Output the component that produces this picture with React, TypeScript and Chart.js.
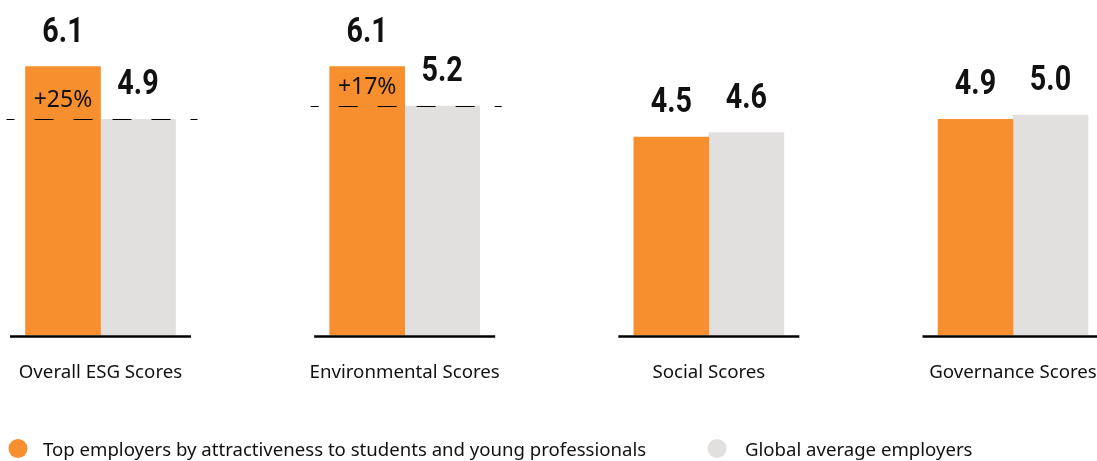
import React, { useEffect, useRef } from "react";
import { Chart, registerables } from "chart.js";

Chart.register(...registerables);

const categories = ["Overall ESG Scores", "Environmental Scores", "Social Scores", "Governance Scores"];
const topEmployers = [6.1, 6.1, 4.5, 4.9];
const globalAverage = [4.9, 5.2, 4.6, 5.0];
const gapLabels: (string | null)[] = ["+25%", "+17%", null, null];
const seriesNames = [
  "Top employers by attractiveness to students and young professionals",
  "Global average employers",
];
const seriesColors = ["#F78F2E", "#E2DFDF"];

const TEXT = "#111111";

const decorPlugin = {
  id: "decor",
  afterDatasetsDraw(chart: any) {
    const ctx = chart.ctx as CanvasRenderingContext2D;
    const xs = chart.scales.x;
    const ys = chart.scales.y;
    const base = ys.getPixelForValue(0);
    ctx.save();
    categories.forEach((cat, i) => {
      const cx = xs.getPixelForValue(i);
      // baseline
      ctx.strokeStyle = "#000";
      ctx.lineWidth = 2.5;
      ctx.setLineDash([]);
      ctx.beginPath();
      ctx.moveTo(cx - 90.5, base + 1.5);
      ctx.lineTo(cx + 90.5, base + 1.5);
      ctx.stroke();
      // category label
      ctx.fillStyle = TEXT;
      ctx.font = "18.7px 'Noto Sans'";
      ctx.textAlign = "center";
      ctx.textBaseline = "alphabetic";
      ctx.fillText(cat, cx, base + 43);
      // dashed reference + gap label
      const gap = gapLabels[i];
      if (gap) {
        const gy = Math.round(ys.getPixelForValue(globalAverage[i])) + 0.5;
        ctx.strokeStyle = "#000";
        ctx.lineWidth = 1;
        ctx.setLineDash([19, 20]);
        ctx.lineDashOffset = 11;
        ctx.beginPath();
        ctx.moveTo(cx - 94, gy);
        ctx.lineTo(cx + 97, gy);
        ctx.stroke();
        ctx.setLineDash([]);
        const ox = chart.getDatasetMeta(0).data[i].x;
        ctx.font = "23px 'Noto Sans'";
        ctx.fillStyle = TEXT;
        ctx.fillText(gap, ox, gy - 13);
      }
    });
    // value labels
    chart.data.datasets.forEach((ds: any, di: number) => {
      const meta = chart.getDatasetMeta(di);
      meta.data.forEach((bar: any, i: number) => {
        const txt = Number(ds.data[i]).toFixed(1);
        ctx.save();
        ctx.translate(bar.x, bar.y - 25);
        ctx.scale(0.82, 1);
        ctx.font = "bold 35px Roboto";
        ctx.fillStyle = TEXT;
        ctx.textAlign = "center";
        ctx.textBaseline = "alphabetic";
        ctx.fillText(txt, 0, 0);
        ctx.restore();
      });
    });
    // legend
    const legendItems = [
      { cx: 18, tx: 43 },
      { cx: 717, tx: 745 },
    ];
    legendItems.forEach((it, k) => {
      ctx.fillStyle = seriesColors[k];
      ctx.beginPath();
      ctx.arc(it.cx, 448.5, 9.5, 0, Math.PI * 2);
      ctx.fill();
      ctx.fillStyle = TEXT;
      ctx.font = "18.6px 'Noto Sans'";
      ctx.textAlign = "left";
      ctx.textBaseline = "alphabetic";
      ctx.fillText(seriesNames[k], it.tx, 456);
    });
    ctx.restore();
  },
};

export default function App() {
  const ref = useRef<HTMLCanvasElement | null>(null);
  useEffect(() => {
    if (!ref.current) return;
    const chart = new Chart(ref.current, {
      type: "bar",
      data: {
        labels: categories,
        datasets: [
          {
            label: seriesNames[0],
            data: topEmployers,
            backgroundColor: seriesColors[0],
            borderWidth: 0,
            barThickness: 75,
            clip: false as any,
          },
          {
            label: seriesNames[1],
            data: globalAverage,
            backgroundColor: seriesColors[1],
            borderWidth: 0,
            barThickness: 75,
            clip: false as any,
          },
        ],
      },
      options: {
        responsive: false,
        animation: false,
        devicePixelRatio: 1,
        layout: { padding: { left: 100.5, right: 84, top: 27, bottom: 126 } },
        scales: {
          x: { type: "category", offset: false, display: false, grid: { display: false } },
          y: { type: "linear", min: 0, max: 7, display: false, grid: { display: false } },
        },
        plugins: {
          legend: { display: false },
          tooltip: { enabled: false },
        },
      },
      plugins: [decorPlugin],
    });
    return () => chart.destroy();
  }, []);
  return (
    <div style={{ position: "fixed", left: 0, top: 0, width: 1097, height: 461, background: "#fff" }}>
      <canvas ref={ref} width={1097} height={461} style={{ display: "block" }} />
    </div>
  );
}
